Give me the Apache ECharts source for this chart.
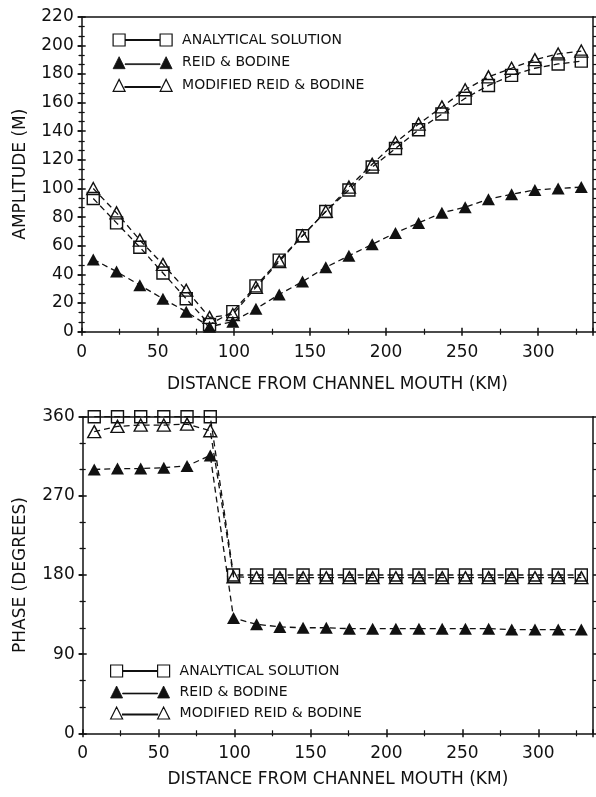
<!DOCTYPE html>
<html>
<head>
<meta charset="utf-8">
<script src="https://cdn.jsdelivr.net/npm/echarts@6/dist/echarts.min.js"></script>
<style>
html,body{margin:0;padding:0;background:#fff;}
#chart{width:596px;height:797px;}
</style>
</head>
<body>
<div id="chart"></div>
<script>
// distance of each computing point from the channel mouth (km)
const distance = [7.6, 22.9, 38.2, 53.4, 68.7, 84.0, 99.3, 114.5, 129.8, 145.1, 160.4,
                  175.6, 190.9, 206.2, 221.4, 236.7, 252.0, 267.3, 282.5, 297.8, 313.1, 328.3];

// amplitude (m)
const ampAnalytical = [93, 76, 59, 41, 23, 5, 14, 32, 50, 67, 84, 99, 115, 128, 141, 152, 163, 172, 179, 184, 187, 189];
const ampReid       = [50.5, 42, 32.5, 23, 14, 3.5, 7, 16, 26, 35, 45, 53, 61, 69, 76, 83, 87, 92.5, 96, 99, 100, 101];
const ampModified   = [100, 83, 64, 47, 29, 10, 12, 31, 49, 67, 84, 101, 117, 132, 145, 157, 169, 178, 184, 190, 194, 196];

// phase (degrees)
const phaseAnalytical = [360, 360, 360, 360, 360, 360, 180, 180, 180, 180, 180, 180, 180, 180, 180, 180, 180, 180, 180, 180, 180, 180];
const phaseReid       = [300, 301, 301, 302, 304, 316, 131, 124, 121, 120, 120, 119, 119, 119, 119, 119, 119, 119, 118, 118, 118, 118];
const phaseModified   = [343, 349, 350.5, 350.5, 351.5, 344, 178, 177, 177, 177, 177, 177, 177, 177, 177, 177, 177, 177, 177, 177, 177, 177];

const NAMES = ['ANALYTICAL SOLUTION', 'REID & BODINE', 'MODIFIED REID & BODINE'];
const INK = '#111';
const FONT = 'DejaVu Sans';

const ICON_SQ  = 'path://M0,0 L12,0 L12,12 L0,12 Z M12,5.6 L47,5.6 L47,6.4 L12,6.4 Z M47,0 L59,0 L59,12 L47,12 Z';
const ICON_TRI = 'path://M0,12 L6,0 L12,12 Z M12,7.1 L47,7.1 L47,7.9 L12,7.9 Z M47,12 L53,0 L59,12 Z';

const zip = (xs, ys) => xs.map((x, i) => [x, ys[i]]);
const line = {color: INK, width: 1.5};

function xAxes(grid, title, gap) {
    const base = {gridIndex: grid, type: 'value', min: 0, max: 336, interval: 50, splitLine: {show: false}};
    return [
        {...base, position: 'bottom',
         axisLine: {onZero: false, lineStyle: line},
         axisTick: {length: 4, lineStyle: line},
         minorTick: {show: true, splitNumber: 2, length: 3, lineStyle: {color: INK, width: 1.2}},
         axisLabel: {margin: 12, color: INK, fontFamily: FONT, fontSize: 17, formatter: v => v % 50 === 0 ? String(v) : ''},
         name: title, nameLocation: 'middle', nameGap: gap,
         nameTextStyle: {color: INK, fontFamily: FONT, fontSize: 17}},
        {...base, position: 'bottom', axisLine: {show: false},
         axisTick: {inside: true, length: 4, lineStyle: line},
         minorTick: {show: true, splitNumber: 2, length: 3, lineStyle: {color: INK, width: 1.2}},
         axisLabel: {show: false}},
        {...base, position: 'top', axisLine: {onZero: false, lineStyle: line},
         axisTick: {show: false}, axisLabel: {show: false}}
    ];
}

function yAxes(grid, max, interval, title, gap) {
    const base = {gridIndex: grid, type: 'value', min: 0, max: max, interval: interval, splitLine: {show: false},
                  minorTick: {show: true, splitNumber: 3, length: 3, lineStyle: {color: INK, width: 1.2}}};
    return [
        {...base, position: 'left',
         axisLine: {show: true, onZero: false, lineStyle: line},
         axisTick: {show: true, length: 4, lineStyle: line},
         axisLabel: {margin: 8, color: INK, fontFamily: FONT, fontSize: 17},
         name: title, nameLocation: 'middle', nameGap: gap,
         nameTextStyle: {color: INK, fontFamily: FONT, fontSize: 17}},
        {...base, position: 'left', axisLine: {show: false},
         axisTick: {show: true, inside: true, length: 4, lineStyle: line}, axisLabel: {show: false}},
        {...base, position: 'right',
         axisLine: {show: true, onZero: false, lineStyle: line},
         axisTick: {show: true, length: 4, lineStyle: line}, axisLabel: {show: false}},
        {...base, position: 'right', axisLine: {show: false},
         axisTick: {show: true, inside: true, length: 4, lineStyle: line}, axisLabel: {show: false}}
    ];
}

function makeSeries(xi, yi, vals) {
    const common = {type: 'line', xAxisIndex: xi, yAxisIndex: yi, animation: false,
                    lineStyle: {color: INK, width: 1.3, type: [6, 4]}};
    return [
        {...common, name: NAMES[0], data: zip(distance, vals[0]), symbol: 'rect', symbolSize: 12,
         itemStyle: {color: 'rgba(0,0,0,0)', borderColor: INK, borderWidth: 1.4}},
        {...common, name: NAMES[1], data: zip(distance, vals[1]), symbol: 'triangle', symbolSize: [13, 12],
         itemStyle: {color: INK, borderColor: INK, borderWidth: 0}},
        {...common, name: NAMES[2], data: zip(distance, vals[2]), symbol: 'triangle', symbolSize: [13, 12],
         itemStyle: {color: 'rgba(0,0,0,0)', borderColor: INK, borderWidth: 1.4}}
    ];
}

function legend(left, top, gap) {
    const open = {color: 'rgba(0,0,0,0)', borderColor: INK, borderWidth: 1.2};
    return {
        orient: 'vertical', left: left, top: top, itemWidth: 59, itemHeight: 12, itemGap: gap,
        selectedMode: false, padding: 0,
        textStyle: {color: INK, fontFamily: FONT, fontSize: 14, padding: [0, 0, 0, 5]},
        data: [
            {name: NAMES[0], icon: ICON_SQ, itemStyle: open},
            {name: NAMES[1], icon: ICON_TRI, itemStyle: {color: INK, borderColor: INK, borderWidth: 0.8}},
            {name: NAMES[2], icon: ICON_TRI, itemStyle: open}
        ]
    };
}

const chart = echarts.init(document.getElementById('chart'));
chart.setOption({
    backgroundColor: '#fff',
    animation: false,
    grid: [
        {left: 81.7, top: 16.7, width: 511.3, height: 315},
        {left: 82.7, top: 416.7, width: 510.3, height: 316.6}
    ],
    legend: [legend(112.5, 33, 8.7), legend(110, 664, 7)],
    xAxis: [...xAxes(0, 'DISTANCE FROM CHANNEL MOUTH (KM)', 44), ...xAxes(1, 'DISTANCE FROM CHANNEL MOUTH (KM)', 38)],
    yAxis: [...yAxes(0, 220, 20, 'AMPLITUDE (M)', 53), ...yAxes(1, 360, 90, 'PHASE (DEGREES)', 54)],
    series: [
        ...makeSeries(0, 0, [ampAnalytical, ampReid, ampModified]),
        ...makeSeries(3, 4, [phaseAnalytical, phaseReid, phaseModified])
    ]
});
</script>
</body>
</html>
